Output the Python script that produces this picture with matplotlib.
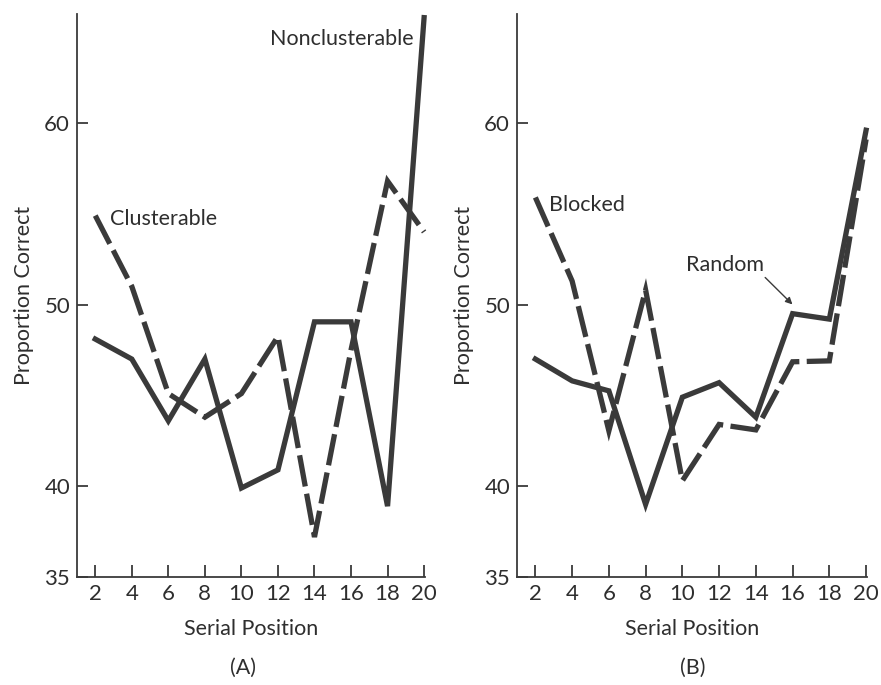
import matplotlib
matplotlib.use("Agg")
import matplotlib.pyplot as plt

# ---------------------------------------------------------------------------
# Data
# ---------------------------------------------------------------------------

positions = [2, 4, 6, 8, 10, 12, 14, 16, 18, 20]

# Panel A
nonclusterable = [48.1, 47.0, 43.6, 47.0, 39.9, 40.9, 49.05, 49.05, 38.9, 65.8]
clusterable = [54.9, 51.0, 45.1, 43.8, 45.1, 48.25, 37.2, 47.5, 56.8, 54.0]

# Panel B
random_order = [47.0, 45.8, 45.25, 39.0, 44.9, 45.7, 43.8, 49.5, 49.2, 59.6]
blocked = [55.9, 51.3, 43.05, 50.8, 40.3, 43.4, 43.1, 46.85, 46.9, 59.1]

y_ticks = [35, 40, 50, 60]
x_ticks = positions

INK = "#3a3a3a"
TEXT = "#2e2e2e"
FS = 15.5

plt.rcParams.update({
    "font.family": ["Lato", "DejaVu Sans"],
    "text.color": TEXT,
    "axes.labelcolor": TEXT,
    "xtick.color": INK,
    "ytick.color": INK,
    "xtick.labelcolor": TEXT,
    "ytick.labelcolor": TEXT,
})


def style_axes(ax):
    ax.set_xlim(1, 20.05)
    ax.set_ylim(35, 66)
    ax.set_xticks(x_ticks)
    ax.set_yticks(y_ticks)
    for side in ("top", "right"):
        ax.spines[side].set_visible(False)
    for side in ("left", "bottom"):
        ax.spines[side].set_color(INK)
        ax.spines[side].set_linewidth(1.3)
    ax.tick_params(axis="both", direction="in", labelsize=16, width=1.3)
    ax.tick_params(axis="x", length=9, pad=5)
    ax.tick_params(axis="y", length=8, pad=5)
    ax.set_xlabel("Serial Position", fontsize=FS, labelpad=11)
    ax.set_ylabel("Proportion Correct", fontsize=FS, labelpad=7)


fig = plt.figure(figsize=(8.81, 6.85), dpi=100)
fig.patch.set_facecolor("white")

ax_a = fig.add_axes([77 / 881, 108 / 685, 348 / 881, 563 / 685])
ax_b = fig.add_axes([517 / 881, 108 / 685, 350 / 881, 563 / 685])

line_kw = dict(color=INK, lw=3.8, solid_joinstyle="miter", clip_on=False)
dash_kw = dict(color=INK, lw=3.8, dashes=(6, 1.4), dash_joinstyle="miter",
               clip_on=False)

# Panel A
ax_a.plot(positions, nonclusterable, **line_kw)
ax_a.plot(positions, clusterable, **dash_kw)
style_axes(ax_a)
ax_a.text(19.45, 64.6, "Nonclusterable", ha="right", va="center", fontsize=FS)
ax_a.text(2.8, 54.7, "Clusterable", ha="left", va="center", fontsize=FS)
ax_a.text(0.477, -0.162, "(A)", transform=ax_a.transAxes, ha="center",
          va="center", fontsize=FS)

# Panel B
ax_b.plot(positions, random_order, **line_kw)
ax_b.plot(positions, blocked, **dash_kw)
style_axes(ax_b)
ax_b.text(2.75, 55.5, "Blocked", ha="left", va="center", fontsize=FS)
ax_b.text(10.2, 52.2, "Random", ha="left", va="center", fontsize=FS)
ax_b.annotate("", xy=(16.1, 49.9), xytext=(14.4, 51.6),
              arrowprops=dict(arrowstyle="-|>", color=INK, lw=1.0,
                              mutation_scale=10))
ax_b.text(0.503, -0.162, "(B)", transform=ax_b.transAxes, ha="center",
          va="center", fontsize=FS)

fig.savefig("out.png", dpi=100, facecolor="white")
